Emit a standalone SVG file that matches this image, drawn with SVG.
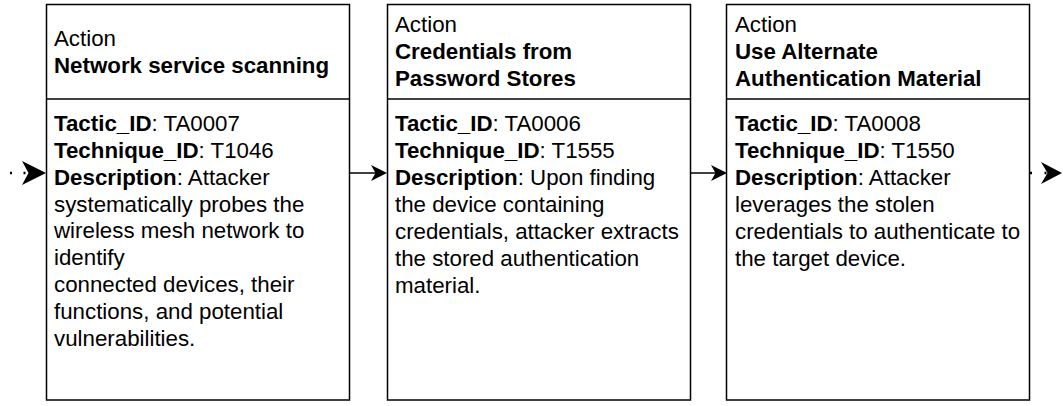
<svg xmlns="http://www.w3.org/2000/svg" width="1063" height="406" viewBox="0 0 1063 406">
<style>
.box{fill:#fff;stroke:#000;stroke-width:1.5}
.div{stroke:#000;stroke-width:1.5}
text{font-family:"Liberation Sans",Arial,Helvetica,sans-serif;font-size:22.3px;fill:#000}
.b{font-weight:bold}
.line{stroke:#000;stroke-width:1.5;fill:none}
.dot{stroke:#000;stroke-width:2.5;fill:none;stroke-dasharray:2 11.5}
.head{fill:#000;stroke:none}
</style>
<rect width="1063" height="406" fill="#fff"/>
<g id="connectors">
  <line class="dot" x1="10" y1="173" x2="40" y2="173"/>
  <path class="head" d="M46,173 L22,161 L28.5,173 L22,185 Z"/>
  <line class="line" x1="349.5" y1="173" x2="377" y2="173"/>
  <path class="head" d="M387,173 L371,165 L375.5,173 L371,181 Z"/>
  <line class="line" x1="690.5" y1="173" x2="717" y2="173"/>
  <path class="head" d="M727,173 L711,165 L715.5,173 L711,181 Z"/>
  <line class="dot" x1="1030" y1="173" x2="1048" y2="173" style="stroke-dasharray:2 12.5"/>
  <path class="head" d="M1062,173 L1041,162 L1047.5,173 L1041,184 Z"/>
</g>
<g id="node1">
  <rect class="box" x="46.5" y="4.5" width="303" height="395.5"/>
  <line class="div" x1="46.5" y1="99" x2="349.5" y2="99"/>
  <text x="54" y="45.5">Action</text>
  <text x="54" y="73" class="b">Network service scanning</text>
  <text x="54" y="131"><tspan class="b">Tactic_ID</tspan>: TA0007</text>
  <text x="54" y="157.5"><tspan class="b">Technique_ID</tspan>: T1046</text>
  <text x="54" y="185"><tspan class="b">Description</tspan>: Attacker</text>
  <text x="54" y="211.5">systematically probes the</text>
  <text x="54" y="238">wireless mesh network to</text>
  <text x="54" y="264.5">identify</text>
  <text x="54" y="292">connected devices, their</text>
  <text x="54" y="319">functions, and potential</text>
  <text x="54" y="346">vulnerabilities.</text>
</g>
<g id="node2">
  <rect class="box" x="387.5" y="4.5" width="303" height="395.5"/>
  <line class="div" x1="387.5" y1="99" x2="690.5" y2="99"/>
  <text x="395" y="32">Action</text>
  <text x="395" y="59" class="b">Credentials from</text>
  <text x="395" y="86" class="b">Password Stores</text>
  <text x="395" y="131"><tspan class="b">Tactic_ID</tspan>: TA0006</text>
  <text x="395" y="157.5"><tspan class="b">Technique_ID</tspan>: T1555</text>
  <text x="395" y="185"><tspan class="b">Description</tspan>: Upon finding</text>
  <text x="395" y="211.5">the device containing</text>
  <text x="395" y="238.5">credentials, attacker extracts</text>
  <text x="395" y="265.5">the stored authentication</text>
  <text x="395" y="292.5">material.</text>
</g>
<g id="node3">
  <rect class="box" x="726.5" y="4.5" width="303" height="395.5"/>
  <line class="div" x1="726.5" y1="99" x2="1029.5" y2="99"/>
  <text x="735" y="32">Action</text>
  <text x="735" y="59" class="b">Use Alternate</text>
  <text x="735" y="86" class="b">Authentication Material</text>
  <text x="735" y="131"><tspan class="b">Tactic_ID</tspan>: TA0008</text>
  <text x="735" y="157.5"><tspan class="b">Technique_ID</tspan>: T1550</text>
  <text x="735" y="185"><tspan class="b">Description</tspan>: Attacker</text>
  <text x="735" y="211.5">leverages the stolen</text>
  <text x="735" y="238.5">credentials to authenticate to</text>
  <text x="735" y="265.5">the target device.</text>
</g>
</svg>
